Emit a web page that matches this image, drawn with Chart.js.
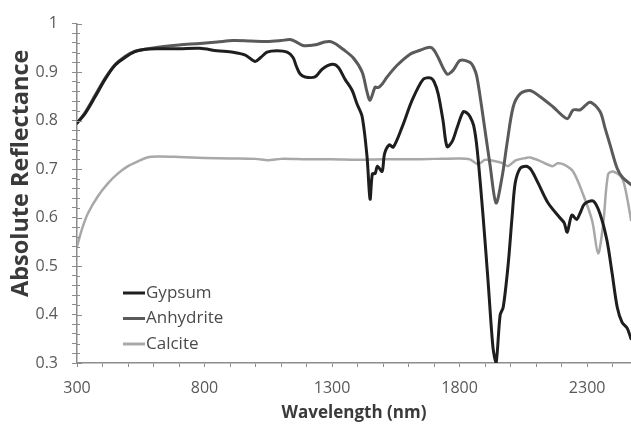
<!DOCTYPE html>
<html>
<head>
<meta charset="utf-8">
<script src="https://cdn.jsdelivr.net/npm/chart.js@4.4.1/dist/chart.umd.min.js"></script>
<style>
  html, body { margin: 0; padding: 0; background: #fff; }
  #wrap { width: 631px; height: 425px; }
</style>
</head>
<body>
<div id="wrap"><canvas id="chart"></canvas></div>
<script>
// values (wavelength in nm, absolute reflectance)
const gypsumNm = [300, 331, 371, 410, 449, 488, 527, 567, 620, 700, 782, 849, 912, 960, 998, 1020, 1045, 1084, 1124, 1147, 1160, 1175, 1194, 1233, 1261, 1300, 1324, 1351, 1378, 1398, 1418, 1437, 1449, 1458, 1469, 1478, 1496, 1506, 1525, 1540, 1575, 1614, 1657, 1685, 1700, 1716, 1735, 1751, 1771, 1790, 1814, 1830, 1841, 1855, 1869, 1892, 1912, 1931, 1943, 1959, 1971, 1990, 2006, 2018, 2037, 2060, 2080, 2108, 2147, 2194, 2210, 2222, 2240, 2259, 2273, 2290, 2324, 2351, 2378, 2398, 2418, 2437, 2457, 2472];
const gypsumR  = [0.795, 0.814, 0.849, 0.885, 0.914, 0.930, 0.942, 0.947, 0.948, 0.948, 0.949, 0.944, 0.941, 0.935, 0.922, 0.930, 0.941, 0.944, 0.941, 0.930, 0.912, 0.896, 0.890, 0.890, 0.906, 0.916, 0.910, 0.885, 0.863, 0.834, 0.808, 0.726, 0.638, 0.690, 0.691, 0.706, 0.695, 0.732, 0.750, 0.745, 0.787, 0.842, 0.885, 0.888, 0.880, 0.855, 0.800, 0.746, 0.757, 0.785, 0.818, 0.815, 0.808, 0.790, 0.740, 0.603, 0.466, 0.331, 0.300, 0.399, 0.415, 0.501, 0.603, 0.671, 0.701, 0.706, 0.699, 0.671, 0.630, 0.599, 0.589, 0.570, 0.605, 0.596, 0.610, 0.628, 0.634, 0.607, 0.552, 0.485, 0.415, 0.384, 0.372, 0.350];

const anhydriteNm = [300, 331, 371, 410, 449, 488, 527, 567, 625, 700, 782, 850, 912, 980, 1045, 1100, 1135, 1160, 1186, 1214, 1241, 1270, 1292, 1315, 1343, 1382, 1418, 1437, 1449, 1469, 1480, 1496, 1516, 1555, 1606, 1645, 1684, 1700, 1716, 1751, 1775, 1802, 1841, 1855, 1868, 1892, 1920, 1943, 1967, 1986, 2010, 2037, 2076, 2116, 2167, 2222, 2245, 2273, 2312, 2351, 2370, 2390, 2418, 2440, 2472];
const anhydriteR  = [0.795, 0.816, 0.852, 0.887, 0.915, 0.932, 0.943, 0.947, 0.952, 0.956, 0.959, 0.962, 0.965, 0.964, 0.963, 0.965, 0.967, 0.962, 0.955, 0.955, 0.957, 0.962, 0.963, 0.958, 0.947, 0.930, 0.900, 0.859, 0.842, 0.869, 0.868, 0.875, 0.890, 0.914, 0.937, 0.945, 0.951, 0.945, 0.930, 0.896, 0.904, 0.924, 0.920, 0.910, 0.890, 0.808, 0.706, 0.630, 0.685, 0.753, 0.828, 0.855, 0.862, 0.849, 0.828, 0.804, 0.822, 0.822, 0.838, 0.818, 0.785, 0.750, 0.701, 0.682, 0.668];

const calciteNm = [300, 320, 343, 382, 422, 461, 500, 539, 575, 618, 700, 800, 900, 1000, 1050, 1100, 1200, 1300, 1400, 1500, 1600, 1700, 1800, 1840, 1873, 1900, 1940, 1970, 1990, 2020, 2060, 2076, 2110, 2163, 2185, 2210, 2245, 2284, 2320, 2343, 2363, 2382, 2402, 2437, 2457, 2472];
const calciteR  = [0.540, 0.577, 0.609, 0.644, 0.671, 0.691, 0.706, 0.716, 0.724, 0.726, 0.725, 0.723, 0.722, 0.721, 0.718, 0.721, 0.720, 0.720, 0.719, 0.720, 0.720, 0.721, 0.722, 0.720, 0.710, 0.719, 0.716, 0.712, 0.706, 0.718, 0.723, 0.724, 0.718, 0.706, 0.712, 0.709, 0.695, 0.648, 0.593, 0.526, 0.587, 0.689, 0.695, 0.681, 0.640, 0.595];

const seriesNames = ['Gypsum', 'Anhydrite', 'Calcite'];
const seriesColors = ['#1e1e1e', '#5a5a5a', '#a8a8a8'];

const xTickLabels = [300, 800, 1300, 1800, 2300];
const yTickLabels = [0.3, 0.4, 0.5, 0.6, 0.7, 0.8, 0.9, 1];

function toPoints(xs, ys) {
  return xs.map((x, i) => ({ x: x, y: ys[i] }));
}

// legend drawn inside the plot, lower left
const insideLegend = {
  id: 'insideLegend',
  afterDraw(chart) {
    const ctx = chart.ctx;
    const area = chart.chartArea;
    ctx.save();
    ctx.font = '17px "Open Sans"';
    ctx.textBaseline = 'middle';
    chart.data.datasets.forEach((ds, i) => {
      const y = area.bottom - 70 + i * 25.5;
      const x = area.left + 46;
      ctx.strokeStyle = ds.borderColor;
      ctx.lineWidth = 3;
      ctx.beginPath();
      ctx.moveTo(x, y);
      ctx.lineTo(x + 22, y);
      ctx.stroke();
      ctx.fillStyle = '#4a4a4a';
      ctx.fillText(ds.label, x + 23, y);
    });
    ctx.restore();
  }
};

// y ticks cross the axis in the reference: add the inner half
const innerTicks = {
  id: 'innerTicks',
  afterDraw(chart) {
    const ctx = chart.ctx;
    const y = chart.scales.y;
    const x0 = chart.chartArea.left;
    ctx.save();
    ctx.strokeStyle = '#8c8c8c';
    ctx.lineWidth = 1;
    y.ticks.forEach(t => {
      const py = Math.round(y.getPixelForValue(t.value)) + 0.5;
      const major = yTickLabels.some(l => Math.abs(l - t.value) < 1e-6);
      ctx.beginPath();
      ctx.moveTo(x0, py);
      ctx.lineTo(x0 + (major ? 5 : 3), py);
      ctx.stroke();
    });
    ctx.restore();
  }
};

// y axis title sits a bit above the middle in the reference
const yTitle = {
  id: 'yTitle',
  afterDraw(chart) {
    const ctx = chart.ctx;
    const area = chart.chartArea;
    ctx.save();
    ctx.translate(21, (area.top + area.bottom) / 2 - 20);
    ctx.rotate(-Math.PI / 2);
    ctx.font = 'bold 23.5px "Open Sans"';
    ctx.fillStyle = '#3a3a3a';
    ctx.textAlign = 'center';
    ctx.textBaseline = 'middle';
    ctx.fillText('Absolute Reflectance', 0, 0);
    ctx.restore();
  }
};

new Chart(document.getElementById('chart'), {
  type: 'line',
  data: {
    datasets: [
      { label: seriesNames[0], data: toPoints(gypsumNm, gypsumR), borderColor: seriesColors[0], borderWidth: 3 },
      { label: seriesNames[1], data: toPoints(anhydriteNm, anhydriteR), borderColor: seriesColors[1], borderWidth: 3 },
      { label: seriesNames[2], data: toPoints(calciteNm, calciteR), borderColor: seriesColors[2], borderWidth: 2.5 }
    ]
  },
  plugins: [insideLegend, innerTicks, yTitle],
  options: {
    responsive: true,
    maintainAspectRatio: false,
    animation: false,
    layout: { padding: { top: 21, left: 0, right: 0, bottom: 0 } },
    elements: {
      point: { radius: 0 },
      line: { tension: 0.3, borderCapStyle: 'round', borderJoinStyle: 'round' }
    },
    plugins: {
      legend: { display: false },
      tooltip: { enabled: false }
    },
    scales: {
      x: {
        type: 'linear',
        min: 300,
        max: 2472,
        afterFit(scale) { scale.height = 62; },
        afterBuildTicks(scale) {
          const t = [];
          for (let v = 300; v <= 2400; v += 100) t.push({ value: v });
          scale.ticks = t;
        },
        grid: { display: true, drawOnChartArea: false, drawTicks: true, tickLength: 4, color: '#8c8c8c' },
        border: { color: '#8c8c8c', width: 1.5 },
        ticks: {
          autoSkip: false,
          maxRotation: 0,
          padding: 12,
          color: '#595959',
          font: { family: 'Open Sans', size: 16 },
          callback: (v) => xTickLabels.includes(v) ? String(v) : ''
        },
        title: {
          display: true,
          text: 'Wavelength (nm)',
          color: '#3a3a3a',
          font: { family: 'Open Sans', size: 17, weight: 'bold' },
          padding: { top: 0, bottom: 2 }
        }
      },
      y: {
        min: 0.3,
        max: 1,
        afterFit(scale) { scale.width = 77; },
        afterBuildTicks(scale) {
          const t = [];
          for (let i = 15; i <= 50; i++) t.push({ value: i / 50 });
          scale.ticks = t;
        },
        grid: { display: true, drawOnChartArea: false, drawTicks: true, tickLength: 5, color: '#8c8c8c' },
        border: { color: '#8c8c8c', width: 1.5 },
        ticks: {
          autoSkip: false,
          padding: 14,
          color: '#595959',
          font: { family: 'Open Sans', size: 16 },
          callback: (v) => {
            const hit = yTickLabels.find(l => Math.abs(l - v) < 1e-6);
            return hit === undefined ? '' : String(hit);
          }
        }
      }
    }
  }
});
</script>
</body>
</html>
